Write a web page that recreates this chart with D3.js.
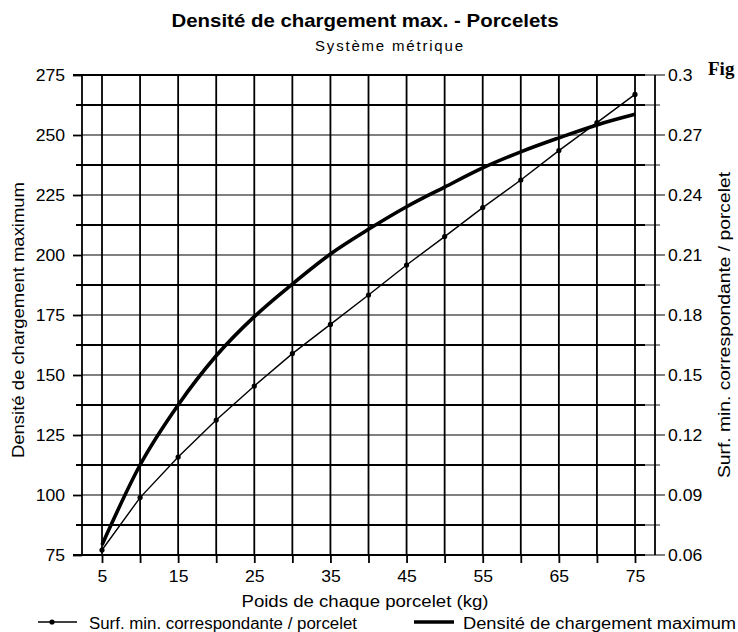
<!DOCTYPE html>
<html><head><meta charset="utf-8">
<script src="https://cdn.jsdelivr.net/npm/d3@7"></script>
<style>
body{margin:0;background:#fff}
svg{display:block}
text{font-family:"Liberation Sans",Arial,Helvetica,sans-serif;fill:#000}
</style>
</head><body>
<svg id="c" width="738" height="632"></svg>
<script>
// ---- data ----
const weights = [5,10,15,20,25,30,35,40,45,50,55,60,65,70,75];
const surfValues = [0.0625,0.0887,0.109,0.1275,0.1445,0.1607,0.1753,0.19,0.205,0.2192,0.2337,0.2475,0.2622,0.2762,0.2903];
const densityValues = [79.2,112.5,137.5,158,174.3,187.9,200.4,210.7,220.1,228.3,236.3,243,248.8,254.2,258.6];
const leftTicks = [75,100,125,150,175,200,225,250,275];
const leftMinor = [87.5,112.5,137.5,162.5,187.5,212.5,237.5,262.5];
const rightTicks = [0.06,0.09,0.12,0.15,0.18,0.21,0.24,0.27,0.3];
const xTicks = [5,10,15,20,25,30,35,40,45,50,55,60,65,70,75];
const xLabels = [5,15,25,35,45,55,65,75];

const SX = 1.1; // horizontal text stretch
const svg = d3.select('#c');
const x = d3.scaleLinear().domain([5,75]).range([102,635]);
const yL = d3.scaleLinear().domain([75,275]).range([555,75]);
const yR = d3.scaleLinear().domain([0.06,0.3]).range([555,75]);
const xLeft = 82, xRight = 655, xBlackEnd = 645;
const GRAY = '#808080', LW = 1.8;

function stretch(sel){
  sel.each(function(){
    const t = d3.select(this);
    const xv = +t.attr('x') || 0;
    t.attr('x', xv/SX).attr('transform', `scale(${SX},1)`);
  });
}
function label(txt, px, py, opts){
  opts = opts || {};
  let tr = `translate(${px},${py})` + (opts.rot ? ` rotate(${opts.rot})` : '');
  if (!opts.len) tr += ` scale(${opts.sx||SX},1)`;
  const t = svg.append('text')
    .attr('transform', tr)
    .attr('text-anchor', opts.anchor || 'middle')
    .style('font-size', (opts.size||16) + 'px')
    .text(txt);
  if (opts.len) t.attr('textLength', opts.len).attr('lengthAdjust', opts.adjust || 'spacingAndGlyphs');
  if (opts.bold) t.style('font-weight','bold');
  if (opts.ls) t.style('letter-spacing', opts.ls + 'px');
  if (opts.family) t.style('font-family', opts.family);
  return t;
}

// ---- grid ----
const g = svg.append('g');
g.selectAll('.gl').data(leftTicks).join('line')
  .attr('x1', xLeft).attr('x2', 665)
  .attr('y1', d=>yL(d)).attr('y2', d=>yL(d))
  .attr('stroke', GRAY).attr('stroke-width', LW);
g.selectAll('.gm').data(leftMinor).join('line')
  .attr('x1', xBlackEnd).attr('x2', 660)
  .attr('y1', d=>yL(d)).attr('y2', d=>yL(d))
  .attr('stroke', GRAY).attr('stroke-width', LW);
g.selectAll('.bm').data(leftMinor).join('line')
  .attr('x1', 76).attr('x2', xBlackEnd)
  .attr('y1', d=>yL(d)).attr('y2', d=>yL(d))
  .attr('stroke', '#000').attr('stroke-width', LW);
g.selectAll('.bb').data([75,275]).join('line')
  .attr('x1', 73).attr('x2', xBlackEnd)
  .attr('y1', d=>yL(d)).attr('y2', d=>yL(d))
  .attr('stroke', '#000').attr('stroke-width', LW);
g.selectAll('.v').data(xTicks).join('line')
  .attr('x1', d=>x(d)).attr('x2', d=>x(d))
  .attr('y1', yL(275)).attr('y2', yL(75))
  .attr('stroke', '#000').attr('stroke-width', LW);
g.append('line').attr('x1', xLeft).attr('x2', xLeft).attr('y1', yL(275)).attr('y2', yL(75)).attr('stroke','#000').attr('stroke-width', LW);
g.append('line').attr('x1', xRight).attr('x2', xRight).attr('y1', yL(275)).attr('y2', yL(75)).attr('stroke','#000').attr('stroke-width', LW);

// ---- axes ----
const axL = svg.append('g').attr('transform', `translate(${xLeft},0)`)
  .call(d3.axisLeft(yL).tickValues(leftTicks).tickSize(9).tickPadding(8));
axL.select('.domain').remove();
axL.selectAll('line').attr('stroke','#000').attr('stroke-width', LW);
axL.selectAll('text').style('font-size','16px').style('font-family','"Liberation Sans",Arial,sans-serif').call(stretch);

const axR = svg.append('g').attr('transform', `translate(${xRight},0)`)
  .call(d3.axisRight(yR).tickValues(rightTicks).tickSize(10).tickPadding(3).tickFormat(d=>String(d)));
axR.select('.domain').remove();
axR.selectAll('line').remove();
axR.selectAll('text').style('font-size','16px').style('font-family','"Liberation Sans",Arial,sans-serif').call(stretch);

const axB = svg.append('g').attr('transform', `translate(0,${yL(75)})`)
  .call(d3.axisBottom(x).tickValues(xTicks).tickSize(8).tickPadding(7.5).tickFormat(d=> xLabels.includes(d) ? String(d) : ''));
axB.select('.domain').remove();
axB.selectAll('line').attr('stroke','#000').attr('stroke-width', LW);
axB.selectAll('text').style('font-size','16px').style('font-family','"Liberation Sans",Arial,sans-serif').call(stretch);

// ---- series ----
const lineSurf = d3.line().x((d,i)=>x(weights[i])).y(d=>yR(d));
const lineDens = d3.line().x((d,i)=>x(weights[i])).y(d=>yL(d)).curve(d3.curveMonotoneX);
svg.append('path').datum(surfValues).attr('d', lineSurf)
  .attr('fill','none').attr('stroke','#000').attr('stroke-width',1.4);
svg.selectAll('.mk').data(surfValues).join('circle')
  .attr('cx',(d,i)=>x(weights[i])).attr('cy',d=>yR(d)).attr('r',2.6).attr('fill','#000');
svg.append('path').datum(densityValues).attr('d', lineDens)
  .attr('fill','none').attr('stroke','#000').attr('stroke-width',3.6).attr('stroke-linejoin','round');

// ---- titles ----
label('Densité de chargement max. - Porcelets', 365, 27, {size:19, bold:true, len:387});
label('Système métrique', 389, 51, {size:15, len:148, adjust:'spacing'});
label('Poids de chaque porcelet (kg)', 365, 606.5, {size:16, len:247});
label('Densité de chargement maximum', 23.5, 320, {size:16, rot:-90, len:276});
label('Surf. min. correspondante / porcelet', 730, 325, {size:16, rot:-90, len:306});
label('Fig', 708, 75, {size:19, bold:true, anchor:'start', sx:1.0, family:'"Liberation Serif","Times New Roman",serif'});

// ---- legend ----
svg.append('line').attr('x1',38).attr('x2',77).attr('y1',622).attr('y2',622).attr('stroke','#000').attr('stroke-width',1.4);
svg.append('circle').attr('cx',52).attr('cy',622).attr('r',2.6).attr('fill','#000');
label('Surf. min. correspondante / porcelet', 89, 629, {size:16, anchor:'start', len:268});
svg.append('line').attr('x1',414).attr('x2',454).attr('y1',622).attr('y2',622).attr('stroke','#000').attr('stroke-width',3.6);
label('Densité de chargement maximum', 463, 629, {size:16, anchor:'start', len:273});
</script>
</body></html>
